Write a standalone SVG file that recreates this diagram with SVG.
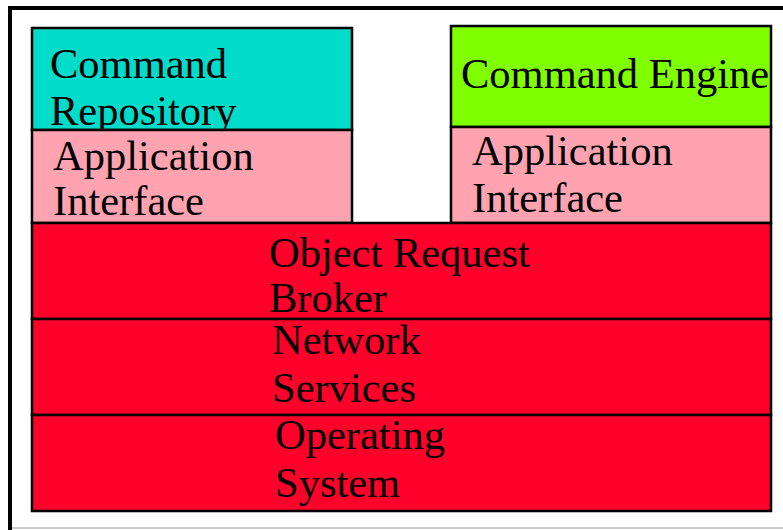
<svg xmlns="http://www.w3.org/2000/svg" width="783" height="530" viewBox="0 0 783 530">
  <style>
    .box { stroke: #000; stroke-width: 2.5; }
    .label { font-family: "Liberation Serif", "Times New Roman", serif; font-size: 42.5px; fill: #000; }
    .teal { fill: #00DCC9; }
    .lime { fill: #80FF00; }
    .pink { fill: #FFA3B1; }
    .red { fill: #FF002A; }
  </style>
  <rect width="783" height="530" fill="#fff"/>
  <!-- outer frame -->
  <g id="frame">
    <line x1="12" y1="528" x2="783" y2="528" stroke="#999" stroke-width="1"/>
    <rect x="10" y="8" width="790" height="530" fill="none" stroke="#000" stroke-width="4"/>
  </g>
  <g id="command-repository">
    <rect class="box teal" x="32" y="28" width="320" height="102"/>
    <text class="label" x="50" y="78">Command</text>
    <text class="label" x="50" y="125">Repository</text>
  </g>
  <g id="app-interface-left">
    <rect class="box pink" x="32" y="130" width="320" height="93"/>
    <text class="label" x="53" y="170">Application</text>
    <text class="label" x="53" y="215">Interface</text>
  </g>
  <g id="command-engine">
    <rect class="box lime" x="451" y="26" width="320" height="101"/>
    <text class="label" x="461" y="88">Command Engine</text>
  </g>
  <g id="app-interface-right">
    <rect class="box pink" x="451" y="127" width="320" height="96"/>
    <text class="label" x="472" y="165">Application</text>
    <text class="label" x="472" y="212">Interface</text>
  </g>
  <g id="object-request-broker">
    <rect class="box red" x="32" y="223" width="739" height="96"/>
    <text class="label" x="269" y="267">Object Request</text>
    <text class="label" x="269" y="312">Broker</text>
  </g>
  <g id="network-services">
    <rect class="box red" x="32" y="319" width="739" height="96"/>
    <text class="label" x="272" y="354">Network</text>
    <text class="label" x="272" y="402">Services</text>
  </g>
  <g id="operating-system">
    <rect class="box red" x="32" y="415" width="739" height="96"/>
    <text class="label" x="275" y="449">Operating</text>
    <text class="label" x="275" y="497">System</text>
  </g>
  <g id="connectors"/>
</svg>
